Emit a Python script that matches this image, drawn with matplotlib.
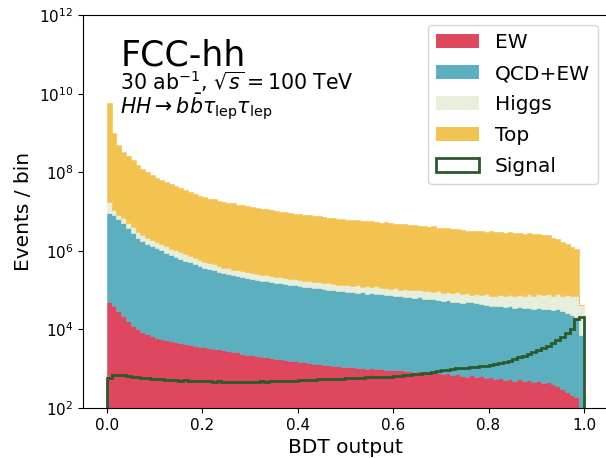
import numpy as np
import matplotlib
matplotlib.use("Agg")
import matplotlib.pyplot as plt
from matplotlib.patches import Patch

# ---- data (events per bin, 100 bins of BDT output in [0, 1]) ----------------
bdt_lo, bdt_hi, n_bins = 0.0, 1.0, 100

ew = [
    5.0e4, 4.0e4, 3.0e4, 2.2e4, 1.66e4, 1.26e4, 1.0e4, 8.7e3, 7.6e3, 6.8e3,
    6.2e3, 5.75e3, 5.4e3, 5.0e3, 4.8e3, 4.5e3, 4.3e3, 4.0e3, 3.8e3, 3.6e3,
    3.55e3, 3.3e3, 3.2e3, 3.1e3, 3.0e3, 2.8e3, 2.7e3, 2.6e3, 2.4e3, 2.3e3,
    2.24e3, 2.14e3, 2.04e3, 1.95e3, 1.86e3, 1.82e3, 1.74e3, 1.66e3, 1.62e3, 1.55e3,
    1.48e3, 1.45e3, 1.38e3, 1.35e3, 1.29e3, 1.26e3, 1.23e3, 1.17e3, 1.15e3, 1.12e3,
    1.10e3, 1.12e3, 1.05e3, 1.07e3, 1.0e3, 1.02e3, 980, 1000, 930, 955,
    910, 930, 870, 890, 830, 870, 795, 830, 760, 795,
    725, 760, 690, 725, 660, 630, 675, 600, 645, 575,
    615, 550, 590, 525, 560, 500, 535, 480, 510, 455,
    490, 435, 455, 400, 355, 300, 250, 220, 190, 0,
]
qcd_ew = [
    9.1e6, 8.1e6, 6.3e6, 5.1e6, 3.8e6, 2.8e6, 2.1e6, 1.78e6, 1.51e6, 1.32e6,
    1.17e6, 1.02e6, 8.9e5, 7.9e5, 7.1e5, 6.3e5, 5.6e5, 5.1e5, 4.6e5, 4.1e5,
    3.7e5, 3.4e5, 3.2e5, 2.9e5, 2.7e5, 2.5e5, 2.35e5, 2.24e5, 2.1e5, 2.0e5,
    1.9e5, 1.82e5, 1.74e5, 1.66e5, 1.58e5, 1.55e5, 1.48e5, 1.41e5, 1.35e5, 1.32e5,
    1.26e5, 1.2e5, 1.17e5, 1.12e5, 1.1e5, 1.05e5, 1.02e5, 9.8e4, 9.5e4, 9.3e4,
    9.1e4, 8.9e4, 8.5e4, 8.7e4, 8.1e4, 8.3e4, 7.8e4, 7.9e4, 7.4e4, 7.6e4,
    7.1e4, 7.2e4, 6.8e4, 6.6e4, 6.3e4, 6.5e4, 6.0e4, 5.8e4, 5.9e4, 5.5e4,
    5.2e4, 5.4e4, 5.0e4, 4.8e4, 4.6e4, 5.0e4, 4.8e4, 4.6e4, 4.4e4, 4.2e4,
    4.0e4, 3.8e4, 4.0e4, 3.6e4, 3.8e4, 3.55e4, 3.7e4, 3.4e4, 3.55e4, 3.3e4,
    3.5e4, 3.2e4, 3.3e4, 3.1e4, 3.2e4, 2.95e4, 2.6e4, 2.3e4, 2.1e4, 7.2e3,
]
higgs = [
    8.3e6, 2.8e6, 2.0e6, 1.6e6, 1.45e6, 1.17e6, 8.9e5, 7.4e5, 6.3e5, 5.5e5,
    4.9e5, 4.6e5, 4.0e5, 3.55e5, 3.2e5, 2.8e5, 2.5e5, 2.1e5, 1.9e5, 1.7e5,
    1.55e5, 1.41e5, 1.32e5, 1.2e5, 1.02e5, 1.05e5, 9.8e4, 9.3e4, 8.7e4, 8.3e4,
    7.9e4, 7.6e4, 7.2e4, 6.9e4, 6.6e4, 6.5e4, 6.2e4, 5.9e4, 5.6e4, 5.5e4,
    5.2e4, 5.4e4, 4.9e4, 5.0e4, 4.6e4, 4.7e4, 4.6e4, 4.4e4, 4.3e4, 4.2e4,
    4.1e4, 4.0e4, 5.0e4, 3.6e4, 4.5e4, 3.5e4, 4.6e4, 3.3e4, 4.1e4, 3.2e4,
    4.2e4, 3.0e4, 4.0e4, 3.4e4, 3.5e4, 3.8e4, 3.3e4, 3.8e4, 3.0e4, 3.8e4,
    3.3e4, 3.55e4, 3.3e4, 3.9e4, 3.4e4, 3.3e4, 2.8e4, 3.55e4, 3.0e4, 3.6e4,
    3.2e4, 3.3e4, 3.6e4, 3.3e4, 3.6e4, 3.55e4, 3.9e4, 3.55e4, 4.2e4, 3.9e4,
    4.5e4, 4.2e4, 4.8e4, 4.1e4, 4.8e4, 4.1e4, 5.0e4, 4.7e4, 5.2e4, 3.5e4,
]
top = [
    5.8e9, 1.0e9, 5.0e8, 3.3e8, 2.5e8, 2.0e8, 1.5e8, 1.2e8, 9.8e7, 8.3e7,
    7.1e7, 6.3e7, 5.6e7, 4.9e7, 4.3e7, 3.8e7, 3.4e7, 3.1e7, 2.75e7, 2.45e7,
    2.3e7, 2.1e7, 2.0e7, 1.86e7, 1.74e7, 1.66e7, 1.58e7, 1.48e7, 1.41e7, 1.35e7,
    1.32e7, 1.23e7, 1.17e7, 1.12e7, 1.07e7, 1.02e7, 9.8e6, 9.5e6, 9.1e6, 8.7e6,
    8.5e6, 8.1e6, 7.9e6, 7.6e6, 7.4e6, 7.1e6, 6.9e6, 6.6e6, 6.5e6, 6.3e6,
    6.0e6, 5.9e6, 6.0e6, 5.6e6, 5.5e6, 5.6e6, 5.2e6, 5.1e6, 5.2e6, 4.9e6,
    4.8e6, 4.7e6, 4.8e6, 4.4e6, 4.5e6, 4.2e6, 4.3e6, 4.0e6, 4.1e6, 3.8e6,
    3.7e6, 3.8e6, 3.5e6, 3.55e6, 3.3e6, 3.2e6, 3.2e6, 3.1e6, 3.2e6, 3.0e6,
    3.1e6, 2.95e6, 3.0e6, 2.8e6, 2.9e6, 2.75e6, 2.8e6, 2.6e6, 2.75e6, 2.6e6,
    2.6e6, 2.5e6, 2.4e6, 2.1e6, 1.9e6, 1.66e6, 1.41e6, 1.2e6, 1.05e6, 0,
]
signal = [
    575, 690, 710, 690, 660, 630, 600, 590, 575, 560,
    550, 535, 525, 525, 510, 500, 510, 500, 490, 480,
    490, 480, 470, 480, 470, 455, 470, 455, 470, 455,
    470, 470, 480, 470, 480, 480, 490, 490, 500, 500,
    510, 515, 525, 525, 535, 540, 550, 550, 560, 565,
    575, 575, 590, 590, 600, 605, 615, 620, 630, 635,
    645, 660, 675, 690, 725, 740, 775, 795, 830, 870,
    910, 955, 1000, 1020, 1050, 1070, 1100, 1120, 1150, 1200,
    1260, 1320, 1410, 1510, 1620, 1780, 1950, 2140, 2340, 2630,
    2950, 3390, 3890, 4570, 5370, 6310, 7940, 1.05e4, 1.9e4, 2.1e4,
]

BKG = [("EW", ew, "#df475e"), ("QCD+EW", qcd_ew, "#5bafbf"),
       ("Higgs", higgs, "#e7eedb"), ("Top", top, "#f3c352")]
SIG_COL = "#2a5a2c"

# ---- plot -------------------------------------------------------------------
edges = np.linspace(bdt_lo, bdt_hi, n_bins + 1)

fig = plt.figure(figsize=(6.06, 4.58), dpi=100)
ax = fig.add_axes([0.137, 0.109, 0.866, 0.858])

base = np.ones(n_bins)
handles = []
for name, vals, col in BKG:
    ax.stairs(base + np.asarray(vals), edges, baseline=base.copy(),
              fill=True, facecolor=col, edgecolor=col, lw=0.4)
    handles.append(Patch(facecolor=col, label=name))
    base = base + np.asarray(vals)
ax.stairs(signal, edges, baseline=1, fill=False, color=SIG_COL, lw=2)
handles.append(Patch(facecolor="none", edgecolor=SIG_COL, lw=2, label="Signal"))

ax.set_yscale("log")
ax.set_ylim(1e2, 1e12)
ax.set_xlim(-0.05, 1.05)
ax.set_yticks([1e2, 1e4, 1e6, 1e8, 1e10, 1e12])
ax.yaxis.set_minor_locator(matplotlib.ticker.NullLocator())
ax.tick_params(labelsize=11)
ax.set_xlabel("BDT output", fontsize=14.5)
ax.set_ylabel("Events / bin", fontsize=14.5)
ax.spines["right"].set_visible(False)

ax.text(0.071, 0.873, "FCC-hh", transform=ax.transAxes, fontsize=25)
ax.text(0.071, 0.809, r"30 ab$^{-1}$, $\sqrt{s} = 100$ TeV",
        transform=ax.transAxes, fontsize=14.8)
ax.text(0.071, 0.751, r"$HH \rightarrow b\bar{b}\tau_{\mathrm{lep}}\tau_{\mathrm{lep}}$",
        transform=ax.transAxes, fontsize=14.8)

ax.legend(handles=handles, loc="upper right", fontsize=14.5, handlelength=2.1,
          labelspacing=0.6, borderaxespad=0, bbox_to_anchor=(0.981, 0.975))

fig.savefig("out.png", dpi=100)
